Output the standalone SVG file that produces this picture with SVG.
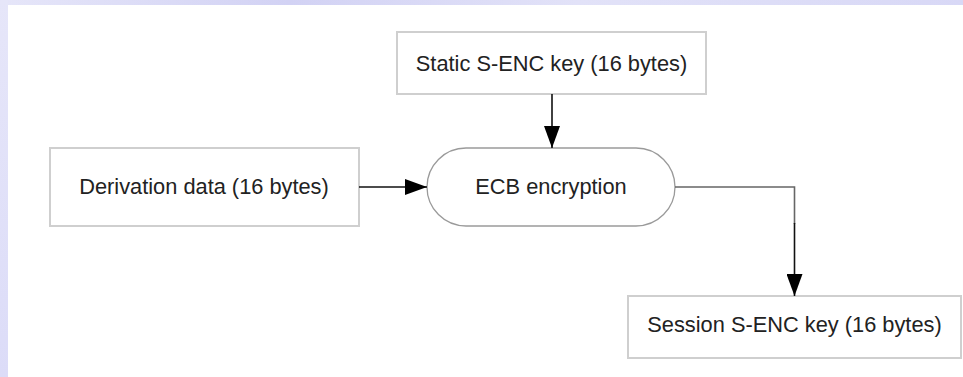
<svg xmlns="http://www.w3.org/2000/svg" width="963" height="377" viewBox="0 0 963 377">
  <defs>
    <linearGradient id="topband" x1="0" y1="0" x2="1" y2="0">
      <stop offset="0" stop-color="#e6e6f9"/>
      <stop offset="0.3" stop-color="#d2d2f4"/>
      <stop offset="0.6" stop-color="#e2e2f8"/>
      <stop offset="1" stop-color="#d8d8f6"/>
    </linearGradient>
    <linearGradient id="leftband" x1="0" y1="0" x2="0" y2="1">
      <stop offset="0" stop-color="#e6e6f9"/>
      <stop offset="1" stop-color="#dcdcf8"/>
    </linearGradient>
    <marker id="arrow" viewBox="0 0 22 16" refX="22" refY="8" markerWidth="22" markerHeight="16" markerUnits="userSpaceOnUse" orient="auto">
      <path d="M0,0 L22,8 L0,16 Z" fill="#000"/>
    </marker>
  </defs>
  <style>
    .box { fill: #ffffff; stroke: #cfcfcf; stroke-width: 2; }
    .pill { fill: #ffffff; stroke: #9a9a9a; stroke-width: 1.3; }
    .label { font-family: "Liberation Sans", Arial, sans-serif; font-size: 21.8px; fill: #222222; text-anchor: middle; }
    .conn { fill: none; stroke: #111111; stroke-width: 1.6; }
  </style>

  <rect x="0" y="0" width="963" height="377" fill="#ffffff"/>
  <rect x="0" y="0" width="963" height="5" fill="url(#topband)"/>
  <rect x="0" y="0" width="8" height="377" fill="url(#leftband)"/>

  <g id="static-key">
    <rect class="box" x="397" y="32" width="309" height="62"/>
    <text class="label" x="551.5" y="71">Static S-ENC key (16 bytes)</text>
  </g>

  <g id="derivation-data">
    <rect class="box" x="50" y="148" width="309" height="78"/>
    <text class="label" x="204" y="194">Derivation data (16 bytes)</text>
  </g>

  <g id="ecb-encryption">
    <rect class="pill" x="427" y="148" width="248" height="78" rx="39" ry="39"/>
    <text class="label" x="551" y="194">ECB encryption</text>
  </g>

  <g id="session-key">
    <rect class="box" x="628" y="296" width="333" height="62"/>
    <text class="label" x="794.5" y="332">Session S-ENC key (16 bytes)</text>
  </g>

  <g id="connectors">
    <line class="conn" x1="552" y1="94" x2="552" y2="148" marker-end="url(#arrow)"/>
    <line class="conn" x1="359" y1="187" x2="427" y2="187" marker-end="url(#arrow)"/>
    <path class="conn" d="M675,187 L794.5,187 L794.5,224" style="stroke:#666666"/>
    <line class="conn" x1="794.5" y1="223" x2="794.5" y2="296" marker-end="url(#arrow)"/>
  </g>
</svg>
